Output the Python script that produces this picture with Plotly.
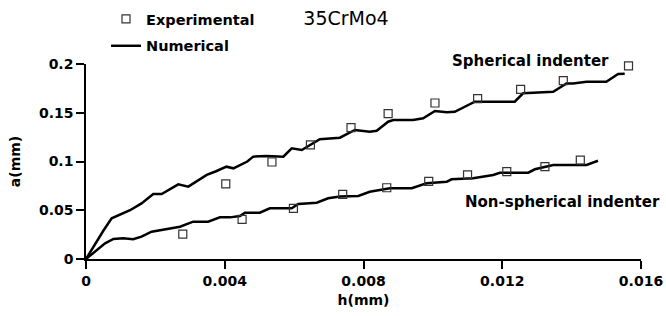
import plotly.graph_objects as go

# Experimental points
sph_exp_h = [0.00403, 0.00536, 0.00647, 0.00764, 0.00871, 0.01006, 0.01129, 0.01253, 0.01376, 0.01564]
sph_exp_a = [0.077, 0.0995, 0.117, 0.1347, 0.149, 0.160, 0.1644, 0.174, 0.183, 0.198]
non_exp_h = [0.00279, 0.0045, 0.00598, 0.0074, 0.00867, 0.00988, 0.0110, 0.01213, 0.01323, 0.01425]
non_exp_a = [0.0256, 0.0407, 0.052, 0.0663, 0.0731, 0.0797, 0.0862, 0.0896, 0.0947, 0.1015]

# Numerical curves
sph_num_h = [0, 0.00025, 0.0005, 0.00074, 0.001, 0.00127, 0.0016, 0.00194, 0.00218, 0.00245,
             0.00266, 0.00295, 0.0032, 0.00348, 0.00375, 0.00405, 0.00425, 0.00444, 0.00465, 0.00482,
             0.0052, 0.00569, 0.00593, 0.00622, 0.00646, 0.00674, 0.00732, 0.00775, 0.00818, 0.00838,
             0.00871, 0.00886, 0.00943, 0.00972, 0.01006, 0.0104, 0.01063, 0.01121, 0.01236, 0.0126,
             0.01289, 0.01347, 0.01385, 0.01404, 0.01443, 0.015, 0.01534, 0.01553]
sph_num_a = [0, 0.015, 0.029, 0.0417, 0.046, 0.050, 0.057, 0.0667, 0.0667, 0.072,
             0.0766, 0.0742, 0.080, 0.0862, 0.090, 0.0947, 0.093, 0.0964, 0.100, 0.105,
             0.1056, 0.105, 0.1135, 0.1118, 0.117, 0.1228, 0.1244, 0.1323, 0.1306, 0.1316,
             0.1408, 0.1426, 0.1426, 0.1443, 0.1518, 0.1504, 0.151, 0.1613, 0.1613, 0.170,
             0.1706, 0.1716, 0.180, 0.180, 0.1818, 0.1818, 0.1897, 0.190]
non_num_h = [0, 0.0003, 0.00055, 0.00079, 0.00107, 0.00136, 0.0016, 0.00189, 0.00233, 0.00271,
             0.00309, 0.00352, 0.00386, 0.00415, 0.00444, 0.00458, 0.00501, 0.0053, 0.00593, 0.00612,
             0.00665, 0.00698, 0.00732, 0.00785, 0.00818, 0.00847, 0.00876, 0.00939, 0.00982, 0.0104,
             0.01054, 0.01116, 0.01174, 0.01193, 0.01275, 0.01294, 0.01347, 0.01443, 0.01476]
non_num_a = [0, 0.009, 0.016, 0.0205, 0.0212, 0.0202, 0.023, 0.028, 0.0305, 0.0331,
             0.0383, 0.0383, 0.0427, 0.0427, 0.0441, 0.0475, 0.0475, 0.052, 0.052, 0.0564,
             0.0578, 0.0623, 0.064, 0.0646, 0.069, 0.0708, 0.0725, 0.0725, 0.0776, 0.0793,
             0.0817, 0.0828, 0.0862, 0.0885, 0.0885, 0.092, 0.0964, 0.0964, 0.1008]

FONT = "DejaVu Sans"
marker_style = dict(symbol="square-open", size=8, color="#333333", line=dict(width=1.2, color="#333333"))
line_style = dict(color="black", width=2.5)

L, R, T, B = 86, 25, 64, 57
PW, PH = 666 - L - R, 316 - T - B


def px_x(p):
    return (p - L) / PW


def px_y(p):
    return (316 - B - p) / PH


fig = go.Figure()
fig.add_trace(go.Scatter(x=sph_num_h, y=sph_num_a, mode="lines", line=line_style,
                         name="Numerical", legendgroup="num", legendrank=2))
fig.add_trace(go.Scatter(x=non_num_h, y=non_num_a, mode="lines", line=line_style,
                         name="Numerical", showlegend=False, legendgroup="num"))
fig.add_trace(go.Scatter(x=sph_exp_h, y=sph_exp_a, mode="markers", marker=marker_style,
                         name="Experimental", legendgroup="exp", legendrank=1, cliponaxis=False))
fig.add_trace(go.Scatter(x=non_exp_h, y=non_exp_a, mode="markers", marker=marker_style,
                         name="Experimental", showlegend=False, legendgroup="exp", cliponaxis=False))

fig.update_layout(
    width=666, height=316,
    margin=dict(l=L, r=R, t=T, b=B, autoexpand=False),
    paper_bgcolor="white", plot_bgcolor="white",
    font=dict(family=FONT, color="black", size=14),
    title=dict(text="35CrMo4", x=346/666, xanchor="center", y=1-18/316, yanchor="middle",
               font=dict(family=FONT, size=19, color="black")),
    legend=dict(x=px_x(106), y=px_y(3), xanchor="left", yanchor="top",
                traceorder="grouped", tracegroupgap=5,
                font=dict(family=FONT, size=14.5, color="black", weight="bold"),
                bgcolor="rgba(0,0,0,0)"),
    showlegend=True,
)
fig.update_xaxes(range=[0, 0.016], tickvals=[0, 0.004, 0.008, 0.012, 0.016],
                 ticktext=["0", "0.004", "0.008", "0.012", "0.016"],
                 showline=True, linecolor="black", linewidth=1.5, ticks="outside",
                 ticklen=8, tickcolor="black", tickwidth=1.5, showgrid=False, zeroline=False,
                 automargin=False,
                 tickfont=dict(family=FONT, size=14, weight="bold"),
                 title=dict(text="h(mm)", standoff=8, font=dict(family=FONT, size=14, weight="bold")))
fig.update_yaxes(range=[0, 0.2], tickvals=[0, 0.05, 0.1, 0.15, 0.2],
                 ticktext=["0", "0.05", "0.1", "0.15", "0.2"],
                 showline=True, linecolor="black", linewidth=1.5, ticks="outside",
                 ticklen=8, tickcolor="black", tickwidth=1.5, showgrid=False, zeroline=False,
                 automargin=False,
                 tickfont=dict(family=FONT, size=14, weight="bold"),
                 title=dict(text="a(mm)", standoff=15, font=dict(family=FONT, size=14, weight="bold")))

fig.add_annotation(text="<b>Spherical indenter</b>", x=px_x(530), y=px_y(61), xref="paper", yref="paper",
                   xanchor="center", yanchor="middle", showarrow=False,
                   font=dict(family=FONT, size=15, color="black"))
fig.add_annotation(text="<b>Non-spherical indenter</b>", x=px_x(562), y=px_y(202), xref="paper", yref="paper",
                   xanchor="center", yanchor="middle", showarrow=False,
                   font=dict(family=FONT, size=15, color="black"))

fig.write_html("out.html", config={"displayModeBar": False},
               post_script="document.body.style.margin='0';")
